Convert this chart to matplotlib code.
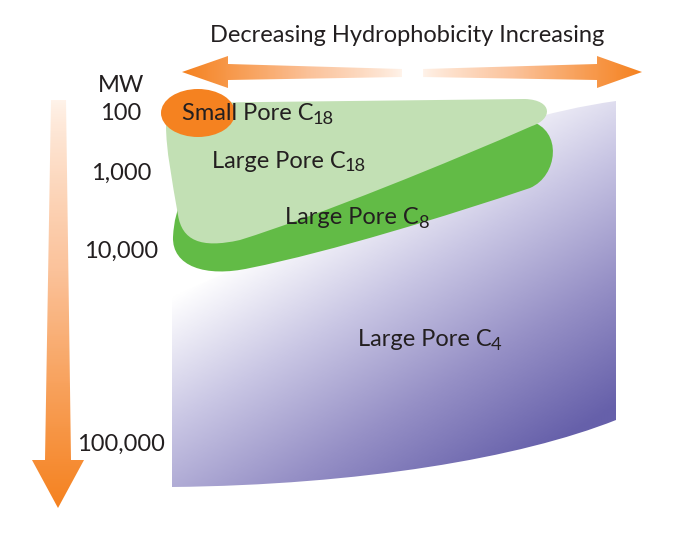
import matplotlib.pyplot as plt
import numpy as np
from matplotlib.path import Path
from matplotlib.patches import PathPatch, Ellipse
from matplotlib.colors import LinearSegmentedColormap

# texts
title = "Decreasing Hydrophobicity Increasing"
mw_title = "MW"
mw_labels = ["100", "1,000", "10,000", "100,000"]
phase_names = ["Small Pore C", "Large Pore C", "Large Pore C", "Large Pore C"]
phase_subs = ["18", "18", "8", "4"]

# layout (pixel space, y down)
mw_y = [113, 173, 251, 444]
phase_xy = [(182, 114), (212, 161), (285, 218), (358, 340)]

M, L, C, Z = Path.MOVETO, Path.LINETO, Path.CURVE4, Path.CLOSEPOLY

c18_pts = [(175, 103), (525, 99), (553, 100), (553, 119), (532, 126),
           (450, 162), (320, 215), (240, 240), (200, 249), (182, 240), (178, 215),
           (172, 180), (166, 150), (166, 125), (166, 110), (170, 103), (175, 103), (175, 103)]
c18_codes = [M, L, C, C, C, C, C, C, C, C, C, C, C, C, C, C, C, Z]

c8_pts = [(182, 200), (530, 121), (563, 130), (558, 176), (530, 188),
          (450, 215), (330, 252), (250, 268), (205, 278), (172, 266), (173, 237),
          (174, 220), (177, 210), (182, 200), (182, 200)]
c8_codes = [M, L, C, C, C, C, C, C, C, C, C, C, C, C, Z]

c4_pts = [(172, 297), (250, 262), (350, 185), (480, 120), (616, 101),
          (616, 420), (520, 458), (360, 485), (172, 487), (172, 297)]
c4_codes = [M, L, C, C, C, L, C, C, C, Z]

left_arrow = [(182, 72), (228, 56), (228, 64), (402, 69), (402, 77), (228, 80), (228, 88)]
right_arrow = [(642, 72), (597, 56), (597, 64), (423, 69), (423, 77), (597, 80), (597, 88)]
down_arrow = [(51, 100), (66, 100), (71, 460), (84, 460), (58, 508), (32, 460), (45, 460)]

orange = "#f58220"
pale = "#fff3ea"

fig = plt.figure(figsize=(6.75, 5.36), dpi=100)
ax = fig.add_axes([0, 0, 1, 1])
ax.set_xlim(0, 675)
ax.set_ylim(536, 0)
ax.axis("off")


def grad_fill(path, img, extent, cmap, z):
    patch = PathPatch(path, facecolor="none", edgecolor="none", zorder=z)
    ax.add_patch(patch)
    im = ax.imshow(img, extent=extent, cmap=cmap, aspect="auto", origin="upper",
                   interpolation="bilinear", zorder=z, vmin=0, vmax=1)
    im.set_clip_path(patch)


# C4 purple gradient
purple_cmap = LinearSegmentedColormap.from_list("p", ["#ffffff", "#c9c6e4", "#9690c6", "#6660aa"])
xx, yy = np.meshgrid(np.linspace(172, 616, 200), np.linspace(99, 487, 200))
t = 0.0016 * (xx - 172) + 0.0026 * (yy - 297)
t = np.clip(t, 0, 1)
grad_fill(Path(c4_pts, c4_codes), t, (172, 616, 487, 99), purple_cmap, 1)

ax.add_patch(PathPatch(Path(c8_pts, c8_codes), facecolor="#62bb46", edgecolor="none", zorder=2))
ax.add_patch(PathPatch(Path(c18_pts, c18_codes), facecolor="#c2e0b4", edgecolor="none", zorder=3))
ax.add_patch(Ellipse((198, 113), 74, 48, facecolor=orange, edgecolor="none", zorder=4))

# arrows with gradients
arrow_cmap = LinearSegmentedColormap.from_list("o", [pale, "#fbc29a", orange])
gx = np.linspace(1, 0, 200)[None, :]
grad_fill(Path(left_arrow + [left_arrow[0]], [M] + [L] * 6 + [Z]), gx ** 0.8, (182, 402, 88, 56), arrow_cmap, 1)
grad_fill(Path(right_arrow + [right_arrow[0]], [M] + [L] * 6 + [Z]), gx[:, ::-1] ** 0.8, (423, 642, 88, 56), arrow_cmap, 1)
gy = np.linspace(0, 1, 200)[:, None]
grad_fill(Path(down_arrow + [down_arrow[0]], [M] + [L] * 6 + [Z]), gy ** 0.8, (32, 84, 508, 100), arrow_cmap, 1)

fs = 17
font = dict(family="Lato", color="#231f20", zorder=5)
ax.text(407, 35, title, ha="center", va="center", fontsize=fs, **font)
ax.text(121, 86, mw_title, ha="center", va="center", fontsize=fs, **font)
for lab, y in zip(mw_labels, mw_y):
    ax.text(121, y, lab, ha="center", va="center", fontsize=fs, **font)

renderer = fig.canvas.get_renderer()
for name, sub, (x, y) in zip(phase_names, phase_subs, phase_xy):
    txt = ax.text(x, y, name, ha="left", va="center", fontsize=fs, **font)
    bb = txt.get_window_extent(renderer)
    x_end = ax.transData.inverted().transform((bb.x1, bb.y0))[0]
    ax.text(x_end - 1, y + 5, sub, ha="left", va="center", fontsize=fs * 0.78, **font)

fig.savefig("out.png", dpi=100)
